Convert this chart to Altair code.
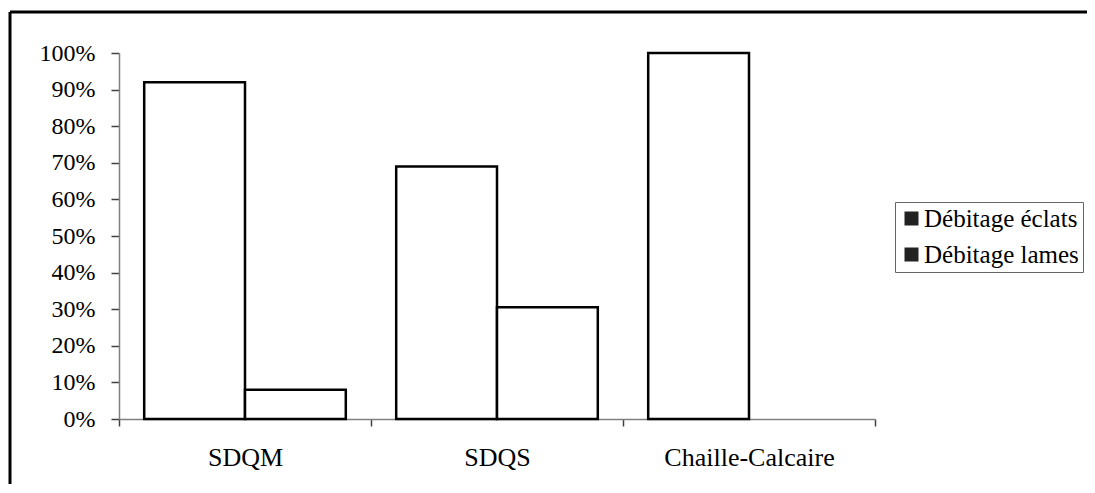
import altair as alt
import pandas as pd

categories = ["SDQM", "SDQS", "Chaille-Calcaire"]
series = ["Débitage éclats", "Débitage lames"]
eclats = [0.92, 0.69, 1.00]
lames = [0.08, 0.305, 0.0]

rows = []
for i, c in enumerate(categories):
    rows.append({"cat": c, "serie": series[0], "v": eclats[i]})
    rows.append({"cat": c, "serie": series[1], "v": lames[i]})
df = pd.DataFrame(rows)

FONT = "Liberation Serif"
W, H = 756, 366
PL, PT = 111, 45
TOTW, TOTH = 1079, 476

xenc = alt.X("cat:N", sort=categories, title=None,
             scale=alt.Scale(paddingInner=0, paddingOuter=0),
             axis=alt.Axis(tickBand="extent", labelAngle=0, labelFontSize=26,
                           labelFont=FONT, labelColor="black", tickSize=7,
                           labelPadding=18, domainColor="#808080", tickColor="#404040",
                           domainWidth=1.5, tickWidth=1.5, grid=False, labelLimit=400))
yenc = alt.Y("v:Q", title=None,
             scale=alt.Scale(domain=[0, 1], nice=False),
             axis=alt.Axis(format=".0%", values=[i / 10 for i in range(11)],
                           labelFontSize=24, labelFont=FONT, labelColor="black",
                           tickSize=8, labelPadding=16, domainColor="#808080",
                           tickColor="#404040", domainWidth=1.5, tickWidth=1.5, grid=False))
xoff = alt.XOffset("serie:N", sort=series,
                   scale=alt.Scale(paddingInner=0, paddingOuter=0.25))

base = alt.Chart(df).transform_filter("datum.v > 0")

pts = base.mark_point(filled=True, opacity=0, color="#222222").encode(
    x=xenc, y=yenc, xOffset=xoff,
    shape=alt.Shape("serie:N", sort=series,
                    scale=alt.Scale(domain=series, range=["square", "square"]),
                    legend=alt.Legend(title=None, orient="none", legendX=776, legendY=149,
                                      labelFont=FONT, labelFontSize=25, labelColor="black",
                                      labelLimit=400,
                                      symbolSize=196, symbolFillColor="#222222",
                                      symbolStrokeColor="black", symbolStrokeWidth=1,
                                      symbolOpacity=1, rowPadding=10,
                                      strokeColor="#666666", padding=4,
                                      fillColor="white", labelOffset=0)),
)

bars = base.mark_bar(fill="white", stroke="black", strokeWidth=2.5).encode(
    x=xenc, y=yenc, xOffset=xoff,
)

frame_df = pd.DataFrame({"k": [0]})
top_rule = alt.Chart(frame_df).mark_rule(color="black", strokeWidth=3).encode(
    x=alt.value(-PL + 2), x2=alt.value(TOTW), y=alt.value(-PT + 4))
left_rule = alt.Chart(frame_df).mark_rule(color="black", strokeWidth=3).encode(
    x=alt.value(-PL + 2), y=alt.value(-PT + 4), y2=alt.value(TOTH))

chart = alt.layer(top_rule, left_rule, pts, bars).properties(
    width=W, height=H,
    padding={"left": PL, "top": PT, "right": TOTW - PL - W, "bottom": TOTH - PT - H},
    autosize=alt.AutoSizeParams(type="none"),
    background="white",
).configure_view(stroke=None)

chart.save("out.html", embed_options={"renderer": "svg", "actions": False})
